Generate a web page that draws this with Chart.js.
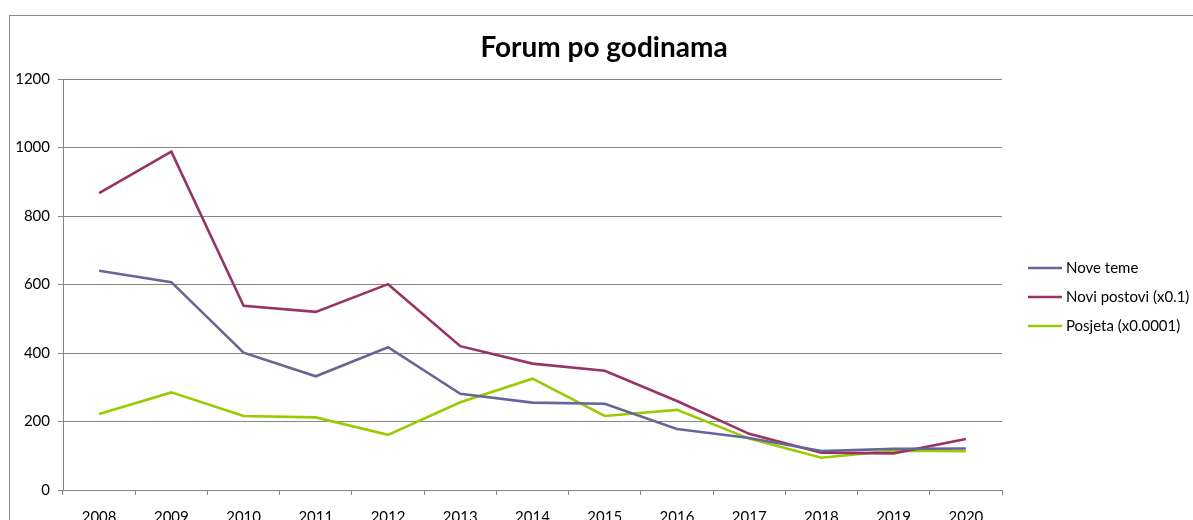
<!DOCTYPE html>
<html>
<head>
<meta charset="utf-8">
<script src="https://cdn.jsdelivr.net/npm/chart.js@4/dist/chart.umd.min.js"></script>
<style>
html,body{margin:0;padding:0;background:#fff;overflow:hidden;}
#wrap{width:1193px;height:520px;position:relative;}
</style>
</head>
<body>
<div id="wrap"><canvas id="c" width="1193" height="520"></canvas></div>
<script>
const years = ['2008','2009','2010','2011','2012','2013','2014','2015','2016','2017','2018','2019','2020'];
const noveTeme = [640, 607, 401, 332, 417, 281, 255, 252, 178, 152, 114, 120, 121];
const noviPostovi = [867, 988, 538, 520, 601, 420, 369, 348, 260, 164, 109, 107, 149];
const posjeta = [222, 285, 216, 212, 161, 256, 325, 216, 234, 150, 94, 115, 113];
const seriesNames = ['Nove teme', 'Novi postovi (x0.1)', 'Posjeta (x0.0001)'];
const yTicks = [0, 200, 400, 600, 800, 1000, 1200];
const titleText = 'Forum po godinama';

const FONT = 'Lato, Calibri, "Liberation Sans", sans-serif';
const GRID = '#868686';

const decor = {
  id: 'decor',
  beforeDraw(chart) {
    const ctx = chart.ctx;
    ctx.save();
    ctx.fillStyle = '#ffffff';
    ctx.fillRect(0, 0, chart.width, chart.height);
    ctx.strokeStyle = '#8c8c8c';
    ctx.lineWidth = 1;
    ctx.strokeRect(9.5, 15.5, 1400, 700);
    ctx.restore();
  },
  afterDraw(chart) {
    const ctx = chart.ctx;
    ctx.save();
    ctx.fillStyle = '#000';
    ctx.font = 'bold 28px ' + FONT;
    ctx.textAlign = 'center';
    ctx.textBaseline = 'middle';
    ctx.fillText(titleText, 604, 48);
    // legend
    ctx.font = '15px ' + FONT;
    ctx.textAlign = 'left';
    chart.data.datasets.forEach((ds, i) => {
      const y = 268 + i * 29;
      ctx.strokeStyle = ds.borderColor;
      ctx.lineWidth = 2.5;
      ctx.beginPath();
      ctx.moveTo(1028, y);
      ctx.lineTo(1062, y);
      ctx.stroke();
      ctx.fillStyle = '#000';
      ctx.fillText(ds.label, 1066, y);
    });
    ctx.restore();
  }
};

new Chart(document.getElementById('c'), {
  type: 'line',
  data: {
    labels: years,
    datasets: [
      {label: seriesNames[0], data: noveTeme, borderColor: '#666699', backgroundColor: '#666699'},
      {label: seriesNames[1], data: noviPostovi, borderColor: '#993366', backgroundColor: '#993366'},
      {label: seriesNames[2], data: posjeta, borderColor: '#99CC00', backgroundColor: '#99CC00'}
    ]
  },
  options: {
    responsive: false,
    animation: false,
    devicePixelRatio: 1,
    layout: {padding: {left: 0, right: 191, top: 79, bottom: 0}},
    elements: {
      line: {borderWidth: 2.6, tension: 0},
      point: {radius: 0, hoverRadius: 0}
    },
    plugins: {
      legend: {display: false},
      title: {display: false},
      tooltip: {enabled: false}
    },
    scales: {
      x: {
        type: 'category',
        offset: true,
        grid: {display: true, drawOnChartArea: false, drawTicks: true, tickLength: 5, offset: true, color: GRID},
        border: {color: GRID, width: 1},
        ticks: {color: '#000', font: {family: FONT, size: 15}, padding: 13, maxRotation: 0},
        afterFit(scale) { scale.height = 30; }
      },
      y: {
        min: 0, max: 1200,
        afterBuildTicks(scale) { scale.ticks = yTicks.map(v => ({value: v})); },
        grid: {color: GRID, lineWidth: 1, tickLength: 5, drawTicks: true},
        border: {color: GRID, width: 1},
        ticks: {color: '#000', font: {family: FONT, size: 15}, padding: 8, callback: v => String(v)},
        afterFit(scale) { scale.width = 63; }
      }
    }
  },
  plugins: [decor]
});
</script>
</body>
</html>
